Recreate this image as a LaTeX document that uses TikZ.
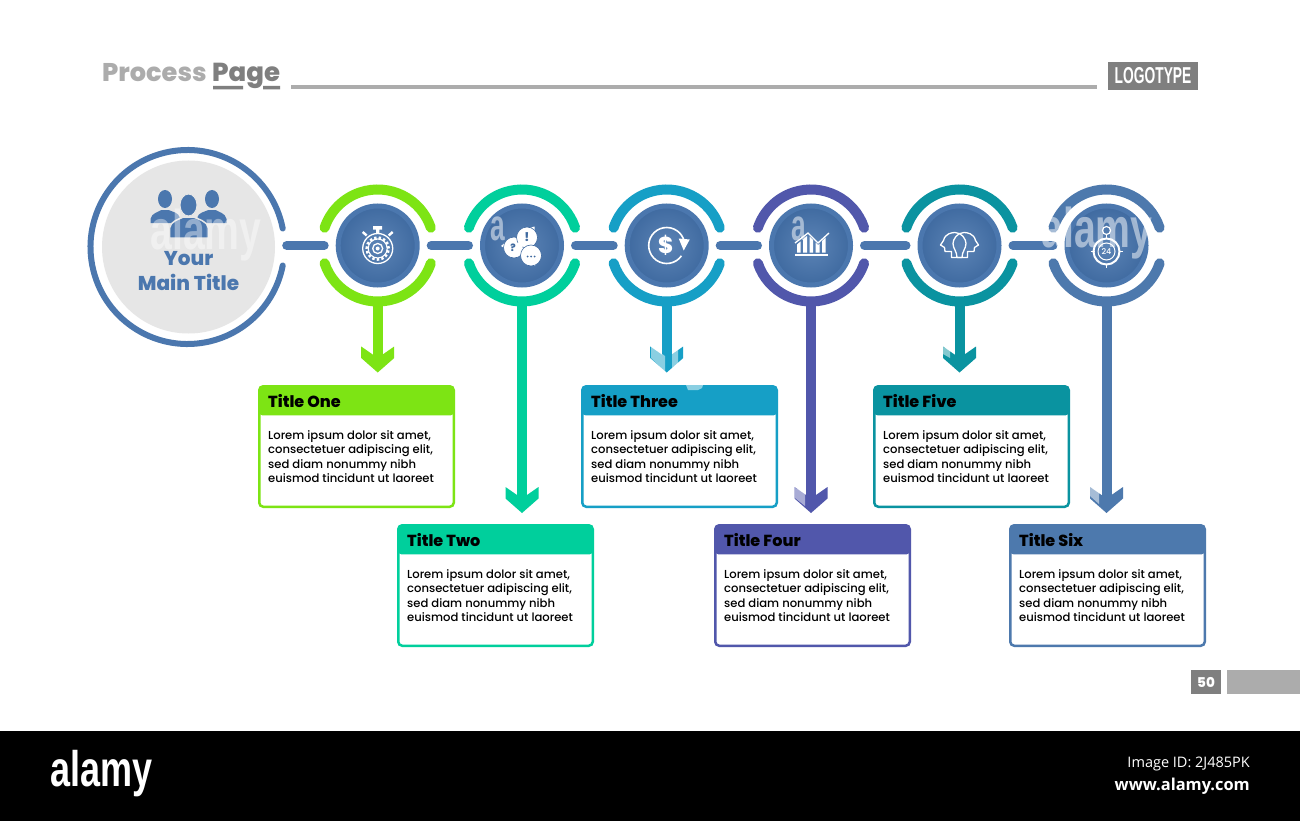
\documentclass[tikz,border=0pt]{standalone}
\usepackage{fontspec}
\setmainfont{Poppins Medium}[BoldFont={Poppins ExtraBold}]
\newfontfamily\sansopen{Open Sans}
\newfontfamily\narrowf{Liberation Sans}
\usetikzlibrary{arrows.meta}
\definecolor{cOne}{HTML}{7DE414}
\definecolor{cTwo}{HTML}{00CF9C}
\definecolor{cThree}{HTML}{169FC6}
\definecolor{cFour}{HTML}{5157AB}
\definecolor{cFive}{HTML}{0A93A0}
\definecolor{cSix}{HTML}{4D79AD}
\definecolor{steel}{HTML}{4B77AE}
\definecolor{discin}{HTML}{5C84B6}
\definecolor{discout}{HTML}{3F6AA0}
\definecolor{lightg}{HTML}{ACACAC}
\definecolor{darkg}{HTML}{7F7F7F}
\definecolor{maing}{HTML}{E6E6E6}
\pgfdeclarearrow{
  name=Chev,
  cache=false,
  setup code={\pgfarrowssettipend{0pt}\pgfarrowssetlineend{-15pt}\pgfarrowssetvisualbackend{-15pt}\pgfarrowssetbackend{-26pt}},
  drawing code={
    \pgfsetfillcolor{.}
    \pgfpathmoveto{\pgfpoint{0pt}{0pt}}
    \pgfpathlineto{\pgfpoint{-14.5pt}{16.5pt}}
    \pgfpathlineto{\pgfpoint{-26pt}{16.5pt}}
    \pgfpathlineto{\pgfpoint{-18pt}{5pt}}
    \pgfpathlineto{\pgfpoint{-18pt}{-5pt}}
    \pgfpathlineto{\pgfpoint{-26pt}{-16.5pt}}
    \pgfpathlineto{\pgfpoint{-14.5pt}{-16.5pt}}
    \pgfpathclose
    \pgfusepathqfill
  }
}
\tikzset{
  x=1pt,y=-1pt,
  discnode/.style={circle,inner sep=0pt,minimum size=79pt,line width=5pt,draw=steel,inner color=discin,outer color=discout},
  ringarc/.style={line width=10pt,line cap=round},
  linkbar/.style={line width=9pt,line cap=round,draw=steel,shorten <=11.5pt,shorten >=11.5pt},
  stemline/.style={line width=10pt,-{Chev}},
  boxnode/.style={rectangle,rounded corners=4pt,line width=2.5pt,minimum width=194.5pt,minimum height=120.5pt,inner sep=0pt,outer sep=0pt,fill=white},
  boxtitle/.style={anchor=west,inner sep=0pt,font=\bfseries\fontsize{16}{17}\selectfont,text=black},
  boxbody/.style={anchor=north west,inner sep=0pt,align=left,font=\fontsize{11.6}{14.6}\selectfont,text=black},
  icon/.style={draw=white,line width=1.3pt},
  wm/.style={inner sep=0pt,text=white,text opacity=.5,font=\narrowf\bfseries},
  wmbit/.style={fill=white,opacity=.5}
}
\begin{document}
\begin{tikzpicture}
\useasboundingbox (0,0) rectangle (1300,821);
\fill[white] (0,0) rectangle (1300,821);

% header
\node[anchor=base west,inner sep=0pt,font=\bfseries\fontsize{25.6}{27}\selectfont] (headA) at (102,82) {\textcolor{lightg}{Process}};
\node[anchor=base west,inner sep=0pt,font=\bfseries\fontsize{26}{27}\selectfont,text=darkg] (headB) at (212,82) {Page};
\fill[darkg] (213,86) rectangle (243,89.5) (263,86) rectangle (280,89.5);
\fill[lightg] (291,85) rectangle (1097,89.5);
\node[fill=darkg,minimum width=90pt,minimum height=28pt,inner sep=0pt,text=white] (logo) at (1153,76) {\scalebox{.6}[1]{\narrowf\bfseries\fontsize{23}{24}\selectfont LOGOTYPE}};

% main circle
\node[circle,fill=maing,minimum size=173pt,inner sep=0pt] (main) at (188.5,247) {};
\draw[steel,line width=6pt,line cap=round] (187.5,247) ++(11:97pt) arc[start angle=11,end angle=349,radius=97pt];

% people icon
\begin{scope}[shift={(main)}]
 \foreach \s in {-1,1}{
  \begin{scope}[xscale=\s]
   \fill[steel] (23.5,-48) ellipse[x radius=7pt,y radius=9pt];
   \fill[steel] (9,-24) -- (38,-24) -- (38,-28) .. controls (37,-34) and (30,-35) .. (27,-37) -- (20,-37) .. controls (15,-35) and (10,-34) .. (9,-30) -- cycle;
  \end{scope}}
 \fill[steel,draw=maing,line width=1.5pt] (-19,-9) -- (20,-9) -- (20,-19) .. controls (19,-26) and (9,-28) .. (5,-30) -- (-5,-30) .. controls (-9,-28) and (-18,-26) .. (-19,-19) -- cycle;
 \fill[steel,draw=maing,line width=1pt] (0,-42) ellipse[x radius=8.5pt,y radius=11pt];
\end{scope}

% hubs, rings
\foreach \n/\x/\c in {1/377.7/cOne,2/522/cTwo,3/666.7/cThree,4/811/cFour,5/959.5/cFive,6/1106.5/cSix}{
  \node[discnode] (disc\n) at (\x,245.5) {};
  \draw[\c,ringarc] (disc\n.center) ++(18.5:56pt) arc[start angle=18.5,end angle=161.5,radius=56pt];
  \draw[\c,ringarc] (disc\n.center) ++(198.5:56pt) arc[start angle=198.5,end angle=341.5,radius=56pt];
}

% links
\draw[linkbar] (main.east |- disc1) -- (disc1.west);
\draw[linkbar] (disc1.east) -- (disc2.west);
\draw[linkbar] (disc2.east) -- (disc3.west);
\draw[linkbar] (disc3.east) -- (disc4.west);
\draw[linkbar] (disc4.east) -- (disc5.west);
\draw[linkbar] (disc5.east) -- (disc6.west);

% boxes and stems
\foreach \n/\bx/\by/\c/\t/\sh in {1/258/385/cOne/Title One/13.75,2/397/524/cTwo/Title Two/12.25,3/581/385/cThree/Title Three/13.75,4/714/524/cFour/Title Four/12.25,5/873/385/cFive/Title Five/13.75,6/1009/524/cSix/Title Six/12.25}{
  \node[boxnode,draw=\c,anchor=north west] (box\n) at ({\bx+1.25},{\by+1.25}) {};
  \fill[\c,rounded corners=3pt] (box\n.north west) rectangle ([yshift=-29pt]box\n.north east);
  \node[boxtitle] (title\n) at ({\bx+10},{\by+16.5}) {\t};
  \node[boxbody] (body\n) at ({\bx+10},{\by+45}) {Lorem ipsum dolor sit amet,\\consectetuer adipiscing elit,\\sed diam nonummy nibh\\euismod tincidunt ut laoreet};
  \draw[\c,stemline,shorten <=14pt,shorten >=\sh pt] (disc\n.south) -- (disc\n.south |- box\n.north);
}

% icon 1: stopwatch with gear
\begin{scope}[shift={(disc1)}]
 \draw[icon] (0,3) circle[radius=15pt];
 \draw[white,line width=2.6pt,dash pattern=on 2.4pt off 2.2pt] (0,3) circle[radius=11pt];
 \draw[white,line width=1.1pt] (0,3) circle[radius=9.5pt];
 \draw[white,line width=1.3pt] (0,3) circle[radius=5pt];
 \fill[white] (0,3) circle[radius=2pt];
 \fill[white] (-1.7,-12) rectangle (1.7,-16) (-4.5,-16) rectangle (4.5,-19.5);
 \draw[white,line width=2.4pt] (-11,-10) -- (-15,-13.5) (11,-10) -- (15,-13.5);
\end{scope}

% icon 2: speech bubbles
\begin{scope}[shift={(disc2)}]
 \fill[white] (-21,0.5) -- (-12,-7) -- (-8,9) -- cycle;
 \fill[white] (12.5,-19) -- (0,-15) -- (13,-2) -- cycle;
 \fill[white] (13,20.5) -- (17,6) -- (2,18) -- cycle;
 \foreach \a/\b/\r in {-8/2/10.5,5/-8/10.5,9/10/10.5}
   \fill[white,draw=discout,line width=.6pt] (\a,\b) circle[radius=\r pt];
 \fill[white] (-1.5,-1) circle[radius=3pt];
 \node[inner sep=0pt,text=discout,font=\bfseries\fontsize{10}{10}\selectfont] (qmark) at (-9,2.5) {?};
 \node[inner sep=0pt,text=discout,font=\bfseries\fontsize{12}{12}\selectfont] (emark) at (5,-8.5) {!};
 \fill[discout] (5.5,11) circle[radius=1pt] (9,11) circle[radius=1pt] (12.5,11) circle[radius=1pt];
\end{scope}

% icon 3: dollar cycle
\begin{scope}[shift={(disc3)}]
 \draw[white,line width=1.6pt] (0,0) ++(-35:18pt) arc[start angle=-35,end angle=-345,radius=18pt];
 \fill[white] (12,-7) -- (23,-6) -- (17,5) -- cycle;
 \node[inner sep=0pt,text=white,font=\bfseries\fontsize{23}{23}\selectfont] (dollar) at (-1,0) {\$};
\end{scope}

% icon 4: bar chart
\begin{scope}[shift={(disc4)}]
 \fill[white] (-14,-1) -- (-10.5,-4) -- (-10.5,7) -- (-14,7) -- cycle;
 \fill[white] (-8,-6) -- (-4,-9.5) -- (-4,7) -- (-8,7) -- cycle;
 \fill[white] (-1.5,-9) -- (2,-5.5) -- (2,7) -- (-1.5,7) -- cycle;
 \fill[white] (4.5,-3) -- (7,-0.5) -- (8.5,-2) -- (8.5,7) -- (4.5,7) -- cycle;
 \fill[white] (11,-4.5) -- (14.5,-8) -- (14.5,7) -- (11,7) -- cycle;
 \draw[white,line width=1.3pt] (-16,-2.5) -- (-3,-12.5) -- (7,-2.5) -- (18,-12.5);
 \draw[white,line width=1.5pt] (-16,9.5) -- (17,9.5);
\end{scope}

% icon 5: two heads
\begin{scope}[shift={(disc5)}]
 \foreach \s in {1,-1}{
 \begin{scope}[xscale=\s]
 \draw[icon,line join=round] (2.5,12) -- (-8,12) -- (-8,6) -- (-14.5,6) -- (-15,2) -- (-19,-0.5) -- (-16,-5) .. controls (-14.5,-12) and (-7.5,-13) .. (-4.5,-13) .. controls (2.5,-13) and (6.5,-6) .. (6.5,-2) .. controls (6.5,3) and (2.5,6) .. (2.5,12);
 \end{scope}}
\end{scope}

% icon 6: stopwatch 24
\begin{scope}[shift={(disc6)}]
 \draw[white,line width=2pt] (0,6) circle[radius=13pt];
 \draw[white,line width=1pt] (0,6) circle[radius=8.5pt];
 \draw[white,line width=1.2pt] (0,-15) circle[radius=4pt];
 \draw[white,line width=1.4pt] (0,-11) -- (0,-7) (-16,6) -- (-12,6) (12,6) -- (16,6) (0,18) -- (0,22);
 \node[inner sep=0pt,text=white,font=\fontsize{8}{8}\selectfont] (tf) at (0,6) {24};
\end{scope}

% watermark traces
\node[wm,text opacity=.4] (wmA) at (206,235) {\scalebox{.7}[1]{\fontsize{56}{56}\selectfont alamy}};
\node[wm] (wmB) at (1097,233) {\scalebox{.7}[1]{\fontsize{56}{56}\selectfont alamy}};
\node[wm] (wmC) at (498,229) {\scalebox{.6}[1]{\fontsize{44}{44}\selectfont a}};
\node[wm] (wmD) at (799,229) {\scalebox{.6}[1]{\fontsize{44}{44}\selectfont a}};
\path[wmbit] (651,346) -- (665,356) -- (665,372) -- (651,358) -- cycle;
\path[wmbit] (672,346) -- (678,343) -- (678,364) -- (672,368) -- cycle;
\path[wmbit] (686,385) -- (703,385) -- (702,388) -- (698,390) -- (688,390) -- cycle;
\path[wmbit] (795,488) -- (805,492) -- (805,506) -- (795,498) -- cycle;
\path[wmbit] (943,347) -- (950,350) -- (950,358) -- (943,354) -- cycle;
\path[wmbit] (1090,487) -- (1099,491) -- (1099,504) -- (1090,496) -- cycle;

% main title over the watermark
\node[inner sep=0pt,align=center,text=steel,font=\bfseries\fontsize{20}{25}\selectfont] (maintitle) at (188.5,271.5) {Your\\Main Title};

% page number
\node[fill=darkg,minimum width=30pt,minimum height=24pt,inner sep=0pt,text=white,font=\bfseries\fontsize{13.5}{14}\selectfont] (pagenum) at (1206,682) {50};
\fill[lightg] (1227,670) rectangle (1300,694);

% footer
\fill[black] (0,731) rectangle (1300,821);
\node[anchor=west,inner sep=0pt,text=white,font=\narrowf\bfseries\fontsize{50}{50}\selectfont] (alamy) at (50,774) {\scalebox{.72}[1]{alamy}};
\node[anchor=east,inner sep=0pt,text=white,font=\sansopen\fontsize{14.5}{15}\selectfont] (imgid) at (1250,764) {Image ID: 2J485PK};
\node[anchor=east,inner sep=0pt,text=white,font=\sansopen\bfseries\fontsize{16.4}{17}\selectfont] (www) at (1250,786) {www.alamy.com};
\end{tikzpicture}
\end{document}
